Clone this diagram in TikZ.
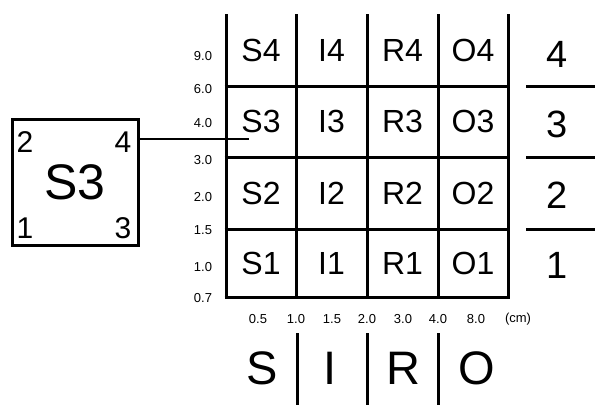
\documentclass[tikz,border=0pt]{standalone}
\usepackage{fontspec}
\setmainfont{Liberation Sans}
\usetikzlibrary{positioning}

\begin{document}
\begin{tikzpicture}[
    x=1pt, y=-1pt,
    cell/.style={rectangle, minimum width=70.5pt, minimum height=71pt, inner sep=0pt, font=\fontsize{32}{32}\selectfont},
    tick/.style={inner sep=0pt, font=\fontsize{13}{13}\selectfont},
    corner/.style={inner sep=0pt, font=\fontsize{30}{30}\selectfont},
    classnum/.style={inner sep=0pt, font=\fontsize{38}{38}\selectfont},
    classname/.style={inner sep=0pt, font=\fontsize{47}{47}\selectfont},
    thickline/.style={line width=3pt},
]
\useasboundingbox (0,0) rectangle (595,405);

% grid cells
\node[cell] (s4) at (261,50) {S4};
\node[cell] (i4) at (331.5,50) {I4};
\node[cell] (r4) at (402.5,50) {R4};
\node[cell] (o4) at (473,50) {O4};
\node[cell] (s3) at (261,121.5) {S3};
\node[cell] (i3) at (331.5,121.5) {I3};
\node[cell] (r3) at (402.5,121.5) {R3};
\node[cell] (o3) at (473,121.5) {O3};
\node[cell] (s2) at (261,193) {S2};
\node[cell] (i2) at (331.5,193) {I2};
\node[cell] (r2) at (402.5,193) {R2};
\node[cell] (o2) at (473,193) {O2};
\node[cell] (s1) at (261,263) {S1};
\node[cell] (i1) at (331.5,263) {I1};
\node[cell] (r1) at (402.5,263) {R1};
\node[cell] (o1) at (473,263) {O1};

% grid lines
\draw[thickline] (226,14) -- (226,297);
\draw[thickline] (296.5,14) -- (296.5,297);
\draw[thickline] (367,14) -- (367,297);
\draw[thickline] (438,14) -- (438,297);
\draw[thickline] (508.5,14) -- (508.5,297);
\draw[thickline] (224.5,86) -- (510,86);
\draw[thickline] (224.5,157) -- (510,157);
\draw[thickline] (224.5,229) -- (510,229);
\draw[thickline] (224.5,297) -- (510,297);

% size classes, left
\node[tick] (t90) at (203,56) {9.0};
\node[tick] (t60) at (203,89) {6.0};
\node[tick] (t40) at (203,123) {4.0};
\node[tick] (t30) at (203,160) {3.0};
\node[tick] (t20) at (203,197) {2.0};
\node[tick] (t15) at (203,230) {1.5};
\node[tick] (t10) at (203,267) {1.0};
\node[tick] (t07) at (203,298) {0.7};

% size classes, bottom
\node[tick] (b05) at (258,319) {0.5};
\node[tick] (b10) at (296,319) {1.0};
\node[tick] (b15) at (332,319) {1.5};
\node[tick] (b20) at (367,319) {2.0};
\node[tick] (b30) at (403,319) {3.0};
\node[tick] (b40) at (438,319) {4.0};
\node[tick] (b80) at (476,319) {8.0};
\node[tick] (unit) at (518,319) {(cm)};

% right: row numbers
\node[classnum] (n4) at (557,54) {4};
\node[classnum] (n3) at (557,124) {3};
\node[classnum] (n2) at (557,195) {2};
\node[classnum] (n1) at (557,265) {1};
\draw[thickline] (526,86) -- (595,86);
\draw[thickline] (526,157) -- (595,157);
\draw[thickline] (526,229) -- (595,229);

% bottom: column letters
\node[classname] (cs) at (262,368) {S};
\node[classname] (ci) at (330,368) {I};
\node[classname] (cr) at (403,368) {R};
\node[classname] (co) at (477,368) {O};
\draw[thickline] (297,333) -- (297,405);
\draw[thickline] (367,333) -- (367,405);
\draw[thickline] (438,333) -- (438,405);

% enlarged cell
\node[rectangle, draw, thickline, minimum size=126pt, inner sep=0pt, font=\fontsize{50}{50}\selectfont] (zoom) at (75,182.5) {S3};
\node[corner] (c2) at (25,142) {2};
\node[corner] (c4) at (123,142) {4};
\node[corner] (c1) at (25,228) {1};
\node[corner] (c3) at (123,228) {3};
\coordinate (tip) at (249,139);
\draw[line width=2.5pt] (zoom.east |- tip) -- (tip);
\end{tikzpicture}
\end{document}
